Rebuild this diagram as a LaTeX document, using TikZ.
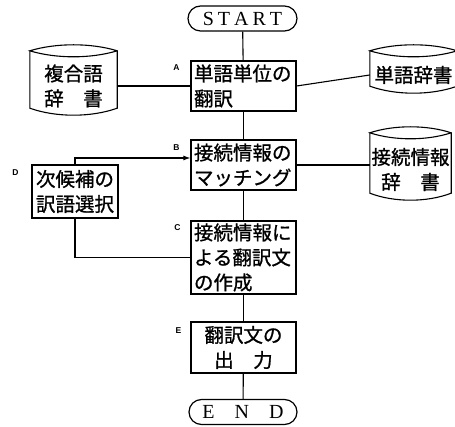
\documentclass[tikz,border=0pt]{standalone}
\usepackage{fontspec}
\setmainfont{Liberation Serif}
\newfontfamily\jp[FakeBold=1]{Noto Sans CJK JP}
\newfontfamily\labfont{Liberation Sans}
\usetikzlibrary{calc,arrows.meta}
\newcommand\cylout[1]{%
\draw[line] ($(#1.north west)+(0,-6)$) -- ($(#1.south west)+(0,-7)$)
  .. controls ($(#1.south west)!0.3!(#1.south east)+(0,2.33)$) and ($(#1.south west)!0.7!(#1.south east)+(0,2.33)$) .. ($(#1.south east)+(0,-7)$)
  -- ($(#1.north east)+(0,-6)$)
  .. controls ($(#1.north west)!0.7!(#1.north east)+(0,-14)$) and ($(#1.north west)!0.3!(#1.north east)+(0,-14)$) .. ($(#1.north west)+(0,-6)$)
  .. controls ($(#1.north west)!0.3!(#1.north east)+(0,2)$) and ($(#1.north west)!0.7!(#1.north east)+(0,2)$) .. ($(#1.north east)+(0,-6)$);}
\begin{document}
\begin{tikzpicture}[x=1pt,y=-1pt,
  line/.style={line width=1.1pt, black},
  box/.style={draw, line width=1.2pt, inner xsep=3pt, inner ysep=0pt, text width=99pt,
    font=\jp\fontsize{19.5}{25}\selectfont, align=left, anchor=center},
  cyl/.style={inner sep=0pt, font=\jp\fontsize{19.5}{25}\selectfont, align=center},
  term/.style={draw, line width=1.2pt, rounded corners=12.5pt, minimum width=109pt,
    minimum height=25pt, inner sep=0pt, font=\fontsize{20}{20}\selectfont},
  tag/.style={inner sep=0pt, font=\labfont\bfseries\fontsize{8.5}{8.5}\selectfont},
  arr/.style={line, -{Latex[length=7pt,width=5pt]}}]
\useasboundingbox (0,0) rectangle (455,427);
\begin{scope}
\clip (0,0) rectangle (455,427);
% main column
\node[term] (start) at (242.5,18.5) {S\hspace{4pt}T\hspace{4pt}A\hspace{4pt}R\hspace{4pt}T};
\node[box, minimum height=50pt] (A) at (243.5,86) {単語単位の\\翻訳};
\node[box, minimum height=50pt] (B) at (243.5,165) {接続情報の\\マッチング};
\node[box, minimum height=73pt] (C) at (243.5,257.5) {接続情報に\\よる翻訳文\\の作成};
\node[box, minimum height=51pt, align=center] (E) at (243.5,347.5) {翻訳文の\\出　力};
\node[term, minimum width=108pt] (end) at (243,412) {E\hspace{20pt}N\hspace{20pt}D};
% side box
\node[box, text width=78pt, inner xsep=4pt, minimum height=53pt] (D) at (75,191.5) {次候補の\\訳語選択};
% tags
\node[tag] (tA) at ($(A.north west)+(-14,7)$) {A};
\node[tag] (tB) at ($(B.north west)+(-14,8)$) {B};
\node[tag] (tC) at ($(C.north west)+(-13,7)$) {C};
\node[tag] (tE) at ($(E.north west)+(-12,9)$) {E};
\node[tag] (tD) at ($(D.north west)+(-16,8)$) {D};
% dictionaries
\node[cyl, minimum width=87pt, minimum height=58pt] (cyl1) at (73.5,86) {複合語\\辞　書};
\node[cyl, minimum width=87pt, minimum height=36pt] (cyl2) at (413.5,75) {単語辞書};
\node[cyl, minimum width=81pt, minimum height=61pt] (cyl3) at (410.5,169.5) {接続情報\\辞　書};
\cylout{cyl1}
\cylout{cyl2}
\cylout{cyl3}
% connectors
\draw[line] (start) -- (A);
\draw[line] (A) -- (B);
\draw[line] (B) -- (C);
\draw[line] (C) -- (E);
\draw[line] (E) -- (end);
\draw[line] (cyl1.east) -- (A.west);
\draw[line] (A.east) -- (cyl2.west);
\draw[line] (B.east) -- (B.east -| cyl3.west);
\draw[arr] (D.north) |- ($(B.west)+(0,-7)$);
\draw[line] (D.south) |- (C.west);
\end{scope}
\end{tikzpicture}
\end{document}
